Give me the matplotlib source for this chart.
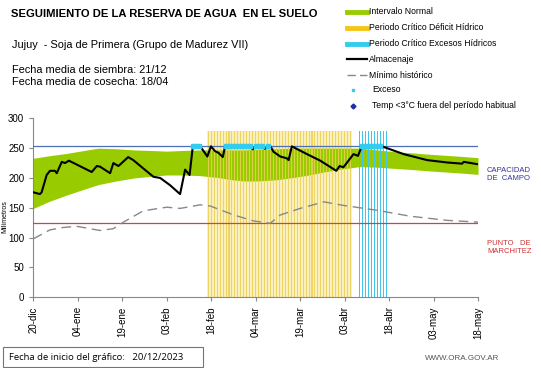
import numpy as np
import matplotlib.pyplot as plt
from matplotlib.lines import Line2D
from matplotlib.patches import Rectangle

plt.rcParams['font.family'] = ['Liberation Sans', 'DejaVu Sans']

# days since 20-dic-2023
tick_days = [0, 15, 30, 45, 60, 75, 90, 105, 120, 135, 150]
tick_labels = ['20-dic', '04-ene', '19-ene', '03-feb', '18-feb', '04-mar',
               '19-mar', '03-abr', '18-abr', '03-may', '18-may']

# normal interval (green band)
band_days = [0, 5, 11, 17, 22, 28, 34, 40, 45, 50, 56, 62, 67, 71, 76, 82, 88, 93, 98, 104, 110, 116, 122, 128, 133, 139, 145, 150]
band_low = [149, 160, 171, 181, 189, 195, 200, 203, 205, 205, 204, 201, 197, 195, 195, 197, 201, 205, 210, 215, 219, 218, 216, 214, 212, 210, 208, 206]
band_high = [233, 237, 241, 246, 250, 249, 247, 246, 245, 246, 247, 247, 247, 247, 248, 249, 250, 250, 250, 250, 250, 247, 244, 242, 240, 238, 236, 234]

# soil water storage (Almacenaje)
alm_days = [0, 2.2, 2.8, 4.5, 5.6, 7.3, 7.9, 9.6, 10.7, 12, 19.7, 21.4, 22.5, 25.9, 27, 28.7, 32, 33.7,
            40.5, 42.8, 46.1, 49.5, 51.2, 52.7, 53.8, 56.3, 58.7, 59.9, 61.3, 62.5, 63.9, 64.7, 73, 74,
            75, 77, 78, 80, 81, 83.3, 85.5, 86.1, 87.2, 92.3, 96.8, 102.2, 103.3, 104.6, 108, 109.5,
            110.8, 117.6, 124.9, 132.8, 139.5, 144.6, 145.2, 150]
alm_vals = [176, 173, 176, 205, 212, 212, 208, 227, 225, 229, 210, 220, 219, 208, 225, 220, 235, 230,
            202, 200, 188, 173, 214, 205, 253, 253, 236, 253, 245, 242, 235, 253, 253, 248,
            253, 253, 249, 253, 244, 236, 233, 230, 253, 240, 229, 212, 220, 218, 240, 237,
            253, 253, 240, 230, 226, 224, 227, 223]

# historical minimum
min_days = [0, 5.6, 10, 14.6, 18, 22.5, 27, 30.4, 37.1, 45, 49.5, 56.3, 59.7, 67.6, 74.3, 79.9, 83.3, 90, 98, 104.6, 115.8, 127, 139.5, 150]
min_vals = [98, 113, 117, 119, 116, 112, 115, 126, 145, 151, 149, 155, 153, 138, 128, 124, 138, 149, 160, 154, 146, 136, 129, 126]

# excess points at field capacity
exc_days = [54, 55, 56, 65, 66, 67, 68, 69, 70, 71, 72, 73, 75, 76, 77, 79, 111, 112, 113, 114, 115, 116, 117]
exc_vals = [253] * len(exc_days)

deficit_days = list(range(59, 108))
excess_days = list(range(110, 120))
period_height = 279

capacidad = 253
marchitez = 125

fig = plt.figure(figsize=(5.41, 3.68), dpi=100)
ax = fig.add_axes([0.0616, 0.1921, 0.822, 0.4864])

# pale background of the deficit period, behind the band
ax.bar(deficit_days, [period_height] * len(deficit_days), width=1.0, color='#FAF0BE',
       linewidth=0, zorder=0.5)
ax.fill_between(band_days, band_low, band_high, color='#99CC00', lw=0, zorder=1)
# daily stripes over the band
ax.bar(deficit_days, [period_height] * len(deficit_days), width=0.35, color='#EDCF55',
       linewidth=0, alpha=0.85, zorder=2)
ax.bar(excess_days, [period_height] * len(excess_days), width=0.4, color='#3FC6EA',
       linewidth=0, zorder=2)

ax.axhline(capacidad, color='#4F6FB5', lw=0.9, zorder=3)
ax.axhline(marchitez, color='#CC4444', lw=0.9, zorder=3)
ax.plot(min_days, min_vals, color='#888888', lw=1.0, dashes=(7, 4), zorder=4)
ax.plot(alm_days, alm_vals, color='black', lw=1.5, zorder=5)
ax.plot(exc_days, exc_vals, ls='none', marker='s', ms=2.2, color='#33CCEE', zorder=6)

ax.set_xlim(0, 150)
ax.set_ylim(0, 300)
ax.set_xticks(tick_days)
ax.set_xticklabels(tick_labels, rotation=90, fontsize=7)
ax.set_yticks(range(0, 301, 50))
ax.tick_params(axis='y', labelsize=7, length=3, color='#888888')
ax.tick_params(axis='x', length=3, color='#888888')
ax.set_ylabel('Milímetros', fontsize=5)
ax.yaxis.set_label_coords(-0.055, 0.45)
for s in ['top', 'right']:
    ax.spines[s].set_visible(False)
for s in ['left', 'bottom']:
    ax.spines[s].set_color('#888888')
    ax.spines[s].set_linewidth(0.8)

# right side labels
ax.text(1.02, 205 / 300, 'CAPACIDAD\nDE  CAMPO', transform=ax.transAxes,
        fontsize=5.5, color='#333399', ha='left', va='center', linespacing=1.2)
ax.text(1.02, 83 / 300, 'PUNTO   DE\nMARCHITEZ', transform=ax.transAxes,
        fontsize=5.5, color='#CC3333', ha='left', va='center', linespacing=1.2)

# header texts
W, H = 541, 368
def fx(x):
    return x / W
def fy(y):
    return 1 - y / H

fig.text(fx(11), fy(14), 'SEGUIMIENTO DE LA RESERVA DE AGUA  EN EL SUELO', fontsize=8.1,
         fontweight='bold', va='center')
fig.text(fx(12), fy(45), 'Jujuy  - Soja de Primera (Grupo de Madurez VII)', fontsize=7.9, va='center')
fig.text(fx(12), fy(70), 'Fecha media de siembra: 21/12', fontsize=7.9, va='center')
fig.text(fx(12), fy(82), 'Fecha media de cosecha: 18/04', fontsize=7.9, va='center')

# legend
leg_y = [12, 28, 44, 59, 75, 90, 106]
leg_text = ['Intervalo Normal', 'Periodo Crítico Déficit Hídrico', 'Periodo Crítico Excesos Hídricos',
            'Almacenaje', 'Mínimo histórico', 'Exceso', 'Temp <3°C fuera del período habitual']
x0, x1 = 347, 367
fig.add_artist(Line2D([fx(x0), fx(x1)], [fy(leg_y[0])] * 2, color='#99CC00', lw=3.5))
fig.add_artist(Line2D([fx(x0), fx(x1)], [fy(leg_y[1])] * 2, color='#F5C518', lw=3.5))
fig.add_artist(Line2D([fx(x0), fx(x1)], [fy(leg_y[2])] * 2, color='#33CCEE', lw=3.5))
fig.add_artist(Line2D([fx(x0), fx(x1)], [fy(leg_y[3])] * 2, color='black', lw=1.6))
fig.add_artist(Line2D([fx(x0), fx(x1)], [fy(leg_y[4])] * 2, color='#888888', lw=1.0, dashes=(6, 3)))
fig.add_artist(Line2D([fx(353)], [fy(leg_y[5])], ls='none', marker='s', ms=2, color='#33CCEE'))
fig.add_artist(Line2D([fx(353)], [fy(leg_y[6])], ls='none', marker='D', ms=2.5, color='#1F2FA0'))
for i, t in enumerate(leg_text):
    xt = 369 if i < 5 else 372
    fig.text(fx(xt), fy(leg_y[i]), t, fontsize=6.2, va='center')

# footer
fig.add_artist(Rectangle((fx(3), fy(367)), fx(200), 20 / H, fill=False, edgecolor='#996666', lw=0.8))
fig.text(fx(9), fy(357), 'Fecha de inicio del gráfico:   20/12/2023', fontsize=6.8, va='center',
         family=['Open Sans', 'DejaVu Sans'])
fig.text(fx(425), fy(358), 'WWW.ORA.GOV.AR', fontsize=5.8, color='#555555', va='center')

fig.savefig('out.png', dpi=100)
